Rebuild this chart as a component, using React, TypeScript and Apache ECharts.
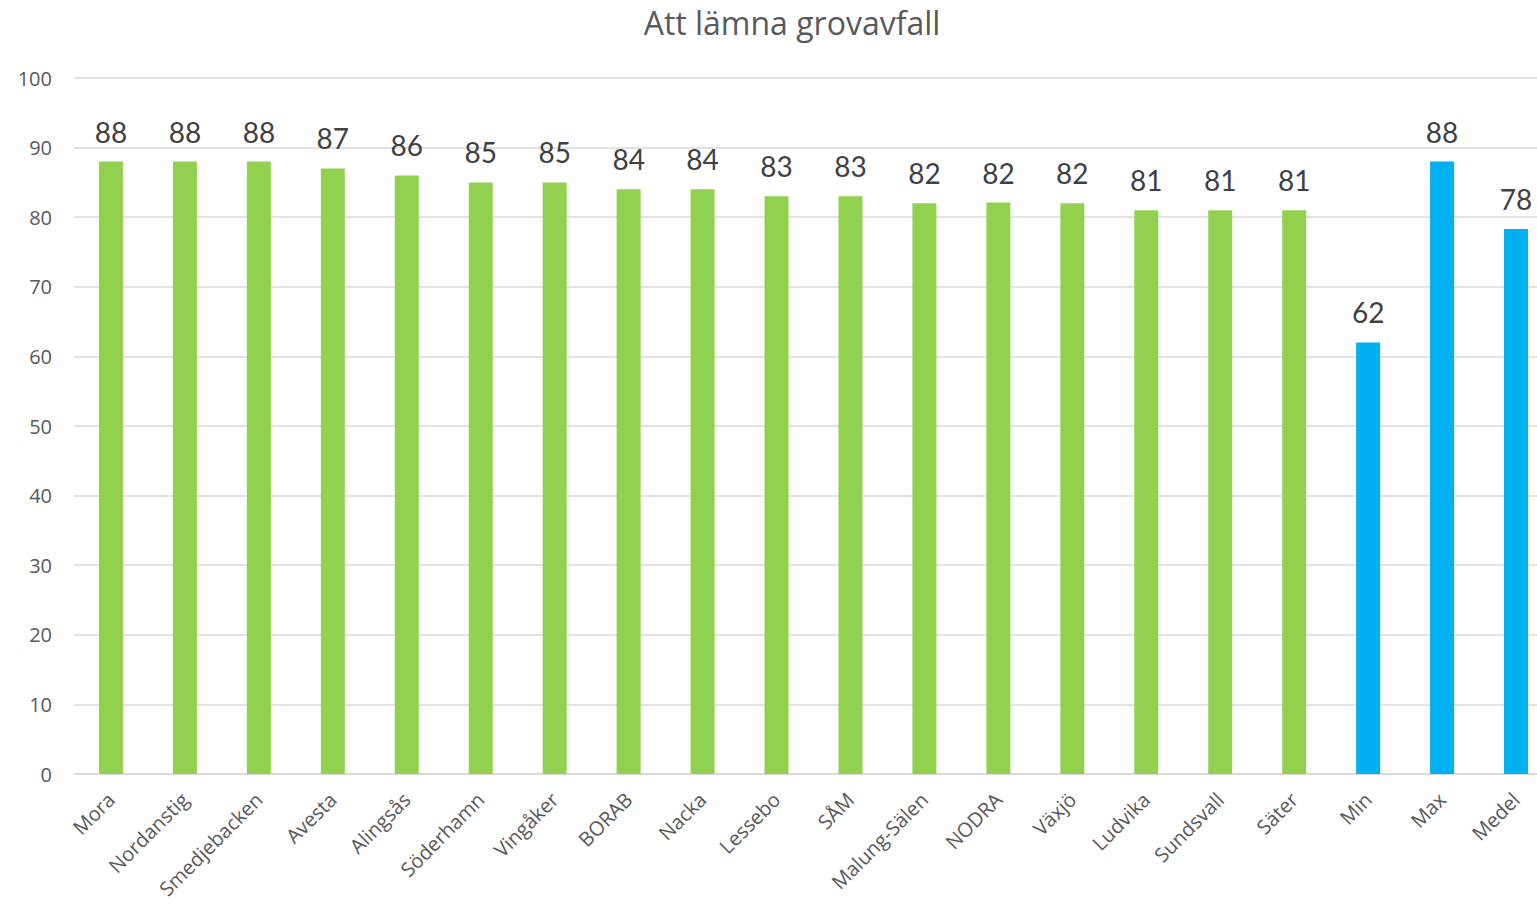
import React, { useEffect, useRef } from "react";
import * as echarts from "echarts";

const title = "Att lämna grovavfall";
const categories = [
  "Mora", "Nordanstig", "Smedjebacken", "Avesta", "Alingsås", "Söderhamn", "Vingåker",
  "BORAB", "Nacka", "Lessebo", "SÅM", "Malung-Sälen", "NODRA", "Växjö", "Ludvika",
  "Sundsvall", "Säter", "Min", "Max", "Medel",
];
const values = [88, 88, 88, 87, 86, 85, 85, 84, 84, 83, 83, 82, 82.1, 82, 81, 81, 81, 62, 88, 78.3];
const summaryCategories = ["Min", "Max", "Medel"];
const greenColor = "#92D050";
const blueColor = "#00B0F0";
const yTicks = { min: 0, max: 100, interval: 10 };

export default function App() {
  const ref = useRef<HTMLDivElement>(null);
  useEffect(() => {
    if (!ref.current) return;
    const chart = echarts.init(ref.current, undefined, { renderer: "svg" });
    const labelFont = "'Open Sans', sans-serif";
    const numFont = "Lato, 'Open Sans', sans-serif";
    chart.setOption({
      animation: false,
      title: {
        text: title,
        left: 787,
        textAlign: "center",
        top: 1,
        textStyle: { fontFamily: labelFont, fontSize: 32, fontWeight: "normal", color: "#595959" },
      },
      grid: { left: 74, right: 0, top: 78, bottom: 132, containLabel: false },
      xAxis: {
        type: "category",
        data: categories,
        axisLine: { lineStyle: { color: "#d9d9d9", width: 1.5 } },
        axisTick: { show: false },
        axisLabel: {
          rotate: 45,
          margin: 22,
          interval: 0,
          fontFamily: labelFont,
          fontSize: 20,
          color: "#595959",
        },
      },
      yAxis: {
        type: "value",
        min: yTicks.min,
        max: yTicks.max,
        interval: yTicks.interval,
        axisLine: { show: false },
        axisTick: { show: false },
        splitLine: { lineStyle: { color: "#d9d9d9", width: 1.5 } },
        axisLabel: { fontFamily: labelFont, fontSize: 20, color: "#595959", margin: 22 },
      },
      series: [
        {
          type: "bar",
          barWidth: 24,
          data: values.map((v, i) => ({
            value: v,
            itemStyle: {
              color: summaryCategories.includes(categories[i]) ? blueColor : greenColor,
            },
          })),
          label: {
            show: true,
            position: "top",
            distance: 16,
            fontFamily: numFont,
            fontSize: 28,
            color: "#404040",
            formatter: (p: any) => String(Math.round(p.value)),
          },
        },
      ],
    });
    return () => chart.dispose();
  }, []);
  return (
    <div style={{ position: "absolute", left: 0, top: 0, width: 1537, height: 906, overflow: "hidden" }}>
      <div ref={ref} style={{ width: 1553, height: 906 }} />
    </div>
  );
}
